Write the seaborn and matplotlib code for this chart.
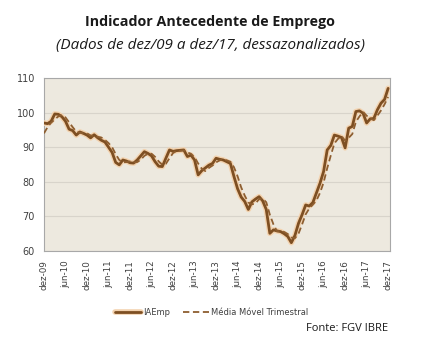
import matplotlib
matplotlib.use("Agg")
import matplotlib.pyplot as plt
import matplotlib.patheffects as pe
import seaborn as sns
import pandas as pd
import numpy as np

iaemp = [97.0, 96.8, 97.5, 99.6, 99.5, 98.8, 97.5, 95.2, 94.8, 93.5,
         94.4, 94.0, 93.5, 92.7, 93.6, 92.7, 92.0, 91.5, 90.0, 88.5,
         85.6, 84.9, 86.3, 86.0, 85.5, 85.4, 86.3, 87.5, 88.7, 88.2,
         87.5, 85.8, 84.5, 84.4, 86.8, 89.2, 88.8, 89.0, 89.1, 89.2,
         87.3, 87.7, 86.3, 82.0, 83.2, 84.0, 84.8, 85.3, 86.8, 86.5,
         86.3, 85.8, 85.3, 81.5, 78.0, 75.6, 74.3, 72.0, 74.2, 75.0,
         75.7, 74.5, 72.0, 65.1, 66.1, 65.8, 65.6, 65.0, 64.2, 62.4,
         64.5, 68.0, 70.5, 73.3, 73.0, 74.0, 76.8, 79.6, 83.0, 89.2,
         90.5, 93.5, 93.2, 92.8, 89.8, 95.5, 96.0, 100.3, 100.5, 99.8,
         97.0, 98.2, 98.3, 100.8, 102.7, 103.8, 107.0]

media_movel = [94.0, 95.8, 97.1, 98.0, 98.9, 99.3, 98.6, 97.2, 95.8, 94.5,
               94.2, 94.0, 94.0, 93.4, 93.3, 93.0, 92.8, 92.1, 91.2, 90.0,
               88.0, 86.3, 85.6, 85.7, 85.9, 85.6, 85.7, 86.4, 87.5, 88.1,
               88.1, 87.2, 85.9, 84.9, 85.2, 86.8, 88.3, 89.0, 89.0, 89.1,
               88.5, 88.1, 87.1, 85.3, 83.8, 83.1, 84.0, 84.7, 85.6, 86.2,
               86.5, 86.2, 85.8, 84.2, 81.6, 78.4, 76.0, 74.0, 73.5, 73.7,
               75.0, 75.1, 74.1, 70.5, 67.7, 65.7, 65.8, 65.5, 64.9, 63.9,
               63.7, 65.0, 67.7, 70.6, 72.3, 73.4, 74.6, 76.8, 79.8, 83.9,
               87.6, 91.1, 92.4, 93.2, 91.9, 92.7, 93.8, 97.3, 98.9, 100.2,
               99.1, 98.3, 97.8, 99.1, 100.6, 102.4, 104.5]

tick_labels = ["dez-09", "jun-10", "dez-10", "jun-11", "dez-11", "jun-12",
               "dez-12", "jun-13", "dez-13", "jun-14", "dez-14", "jun-15",
               "dez-15", "jun-16", "dez-16", "jun-17", "dez-17"]

months = np.arange(len(iaemp))
df = pd.DataFrame({"mes": months, "IAEmp": iaemp, "MM": media_movel})

sns.set_style("white")
plt.rcParams["font.family"] = ["DejaVu Sans"]

fig = plt.figure(figsize=(4.25, 3.46), dpi=100)
ax = fig.add_axes([0.1035, 0.2746, 0.814, 0.5])
ax.set_facecolor("#EDE9DF")

glow = [pe.Stroke(linewidth=4.0, foreground="#F3D2AE"), pe.Normal()]
sns.lineplot(data=df, x="mes", y="IAEmp", ax=ax, color="#7E4F22", linewidth=2.0,
             path_effects=glow, label="IAEmp", zorder=3)
sns.lineplot(data=df, x="mes", y="MM", ax=ax, color="#8E5E30", linewidth=1.3,
             linestyle=(0, (3.5, 2)), label="Média Móvel Trimestral", zorder=4)

ax.set_xlim(0, 96.5)
ax.set_ylim(60, 110)
ax.set_yticks([60, 70, 80, 90, 100, 110])
ax.set_xticks(np.arange(0, 97, 6))
ax.set_xticklabels(tick_labels, rotation=90)
ax.tick_params(axis="y", labelsize=7, colors="#404040", length=3, width=0.8,
               direction="out")
ax.tick_params(axis="x", labelsize=6.3, colors="#404040", length=3, width=0.8,
               direction="out")
ax.grid(axis="y", color="#D8D4CB", linewidth=0.8)
ax.set_xlabel("")
ax.set_ylabel("")
for s in ax.spines.values():
    s.set_color("#A8A8A8")
    s.set_linewidth(0.8)

leg = ax.legend(loc="upper center", bbox_to_anchor=(0.485, -0.285), ncol=2,
                frameon=False, fontsize=6, handlelength=3.1, columnspacing=1.6,
                handletextpad=0.2)
for t in leg.get_texts():
    t.set_color("#404040")

fig.text(0.495, 0.935, "Indicador Antecedente de Emprego", ha="center",
         va="center", fontsize=10.3, fontweight="bold", color="#1a1a1a",
         family=["Open Sans", "DejaVu Sans"])
fig.text(0.495, 0.868, "(Dados de dez/09 a dez/17, dessazonalizados)",
         ha="center", va="center", fontsize=11, style="italic",
         color="#1a1a1a", family=["Open Sans", "DejaVu Sans"])
fig.text(0.913, 0.052, "Fonte: FGV IBRE", ha="right", va="center",
         fontsize=8, color="#1a1a1a", family=["Open Sans", "DejaVu Sans"])

fig.savefig("out.png", dpi=100, facecolor="white")
